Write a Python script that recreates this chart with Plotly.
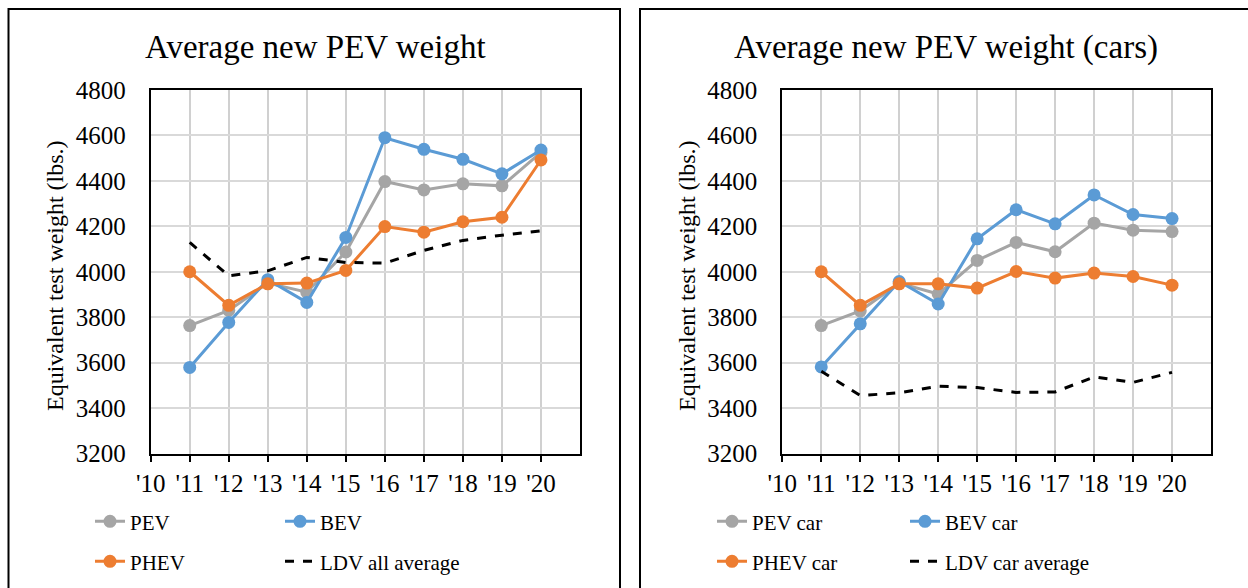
import plotly.graph_objects as go

W, H = 1248, 588

years = ["'10", "'11", "'12", "'13", "'14", "'15", "'16", "'17", "'18", "'19", "'20"]
data_years = years[1:]

# left panel: all vehicles
pev = [3763, 3830, 3950, 3910, 4087, 4397, 4360, 4387, 4378, 4525]
bev = [3579, 3777, 3965, 3865, 4151, 4590, 4539, 4495, 4431, 4536]
phev = [4000, 3852, 3947, 3950, 4006, 4199, 4174, 4220, 4240, 4492]
ldv_all = [4129, 3982, 4004, 4063, 4041, 4038, 4094, 4138, 4161, 4180]

# right panel: cars
pev_car = [3763, 3828, 3950, 3902, 4050, 4129, 4088, 4214, 4183, 4177]
bev_car = [3581, 3771, 3957, 3858, 4145, 4273, 4211, 4338, 4252, 4234]
phev_car = [4000, 3852, 3947, 3947, 3928, 4001, 3972, 3994, 3979, 3941]
ldv_car = [3562, 3455, 3467, 3496, 3490, 3469, 3471, 3537, 3513, 3557]

GRAY, BLUE, ORANGE = "#A5A5A5", "#5B9BD5", "#ED7D31"
FONT = "Liberation Serif"

fig = go.Figure()


def add_series(name, y, color, xa, ya, leg, dash=False):
    if dash:
        line = dict(color="black", width=3, dash="dash")
        mode = "lines"
    else:
        line = dict(color=color, width=3)
        mode = "lines+markers"
    fig.add_trace(go.Scatter(
        x=data_years, y=y, name=name, mode=mode, line=line,
        marker=dict(size=13, color=color), xaxis=xa, yaxis=ya,
        legend=leg, hoverinfo="x+y+name",
    ))


add_series("PEV", pev, GRAY, "x", "y", "legend2")
add_series("BEV", bev, BLUE, "x", "y", "legend3")
add_series("PHEV", phev, ORANGE, "x", "y", "legend4")
add_series("LDV all average", ldv_all, "black", "x", "y", "legend5", dash=True)
add_series("PEV car", pev_car, GRAY, "x2", "y2", "legend6")
add_series("BEV car", bev_car, BLUE, "x2", "y2", "legend7")
add_series("PHEV car", phev_car, ORANGE, "x2", "y2", "legend8")
add_series("LDV car average", ldv_car, "black", "x2", "y2", "legend9", dash=True)

xaxis_style = dict(
    type="category", categoryorder="array", categoryarray=years,
    range=[0, 11], showline=True, linecolor="black", linewidth=2, mirror=True,
    showgrid=True, gridcolor="#D0D0D0", gridwidth=2,
    ticks="outside", ticklen=6, tickcolor="black", tickwidth=1.5,
    tickfont=dict(family=FONT, size=25, color="black"),
    zeroline=False, fixedrange=True,
)
yaxis_style = dict(
    range=[3200, 4800], dtick=200, showline=True, linecolor="black",
    linewidth=2, mirror=True, showgrid=True, gridcolor="#D9D9D9", gridwidth=2,
    ticks="", ticklabelstandoff=18,
    tickfont=dict(family=FONT, size=25, color="black"),
    zeroline=False, fixedrange=True,
)

ydom = [(H - 453.5) / H, (H - 90) / H]
fig.update_layout(
    width=W, height=H,
    margin=dict(l=0, r=0, t=0, b=0, autoexpand=False),
    paper_bgcolor="white", plot_bgcolor="white",
    xaxis=dict(domain=[150.7 / W, 580 / W], anchor="y", **xaxis_style),
    yaxis=dict(domain=ydom, anchor="x", **yaxis_style),
    xaxis2=dict(domain=[782.3 / W, 1211 / W], anchor="y2", **xaxis_style),
    yaxis2=dict(domain=ydom, anchor="x2", **yaxis_style),
)

# legends, one per item, laid out as 2x2 grids under each panel
leg_pos = {
    "legend2": (130, 521.7), "legend3": (320, 521.7),
    "legend4": (130, 561.7), "legend5": (320, 561.7),
    "legend6": (752, 521.7), "legend7": (945, 521.7),
    "legend8": (752, 561.7), "legend9": (945, 561.7),
}
for key, (tx, ty) in leg_pos.items():
    fig.layout[key] = dict(
        x=(tx - 40) / W, y=(H - ty) / H, xanchor="left", yanchor="middle",
        bgcolor="rgba(0,0,0,0)", borderwidth=0,
        font=dict(family=FONT, size=21, color="black"),
    )

annotations = [
    dict(text="Average new PEV weight", x=315.5 / W, y=(H - 47) / H),
    dict(text="Average new PEV weight (cars)", x=945.5 / W, y=(H - 47) / H),
]
fig.update_layout(annotations=[
    dict(a, xref="paper", yref="paper", showarrow=False, xanchor="center",
         yanchor="middle", font=dict(family=FONT, size=33, color="black"))
    for a in annotations
] + [
    dict(text="Equivalent test weight (lbs.)", x=x / W, y=(H - 276) / H,
         xref="paper", yref="paper", showarrow=False, textangle=-90,
         xanchor="center", yanchor="middle",
         font=dict(family=FONT, size=24, color="black"))
    for x in (55, 687)
])

# panel frames
fig.add_shape(type="rect", xref="paper", yref="paper", x0=8.5 / W, x1=620 / W,
              y0=-0.05, y1=(H - 9) / H, line=dict(color="black", width=2))
fig.add_shape(type="rect", xref="paper", yref="paper", x0=640 / W, x1=1.05,
              y0=-0.05, y1=(H - 9) / H, line=dict(color="black", width=2))

fig.write_html("out.html", config={"displayModeBar": False},
               post_script="document.body.style.margin='0';")
